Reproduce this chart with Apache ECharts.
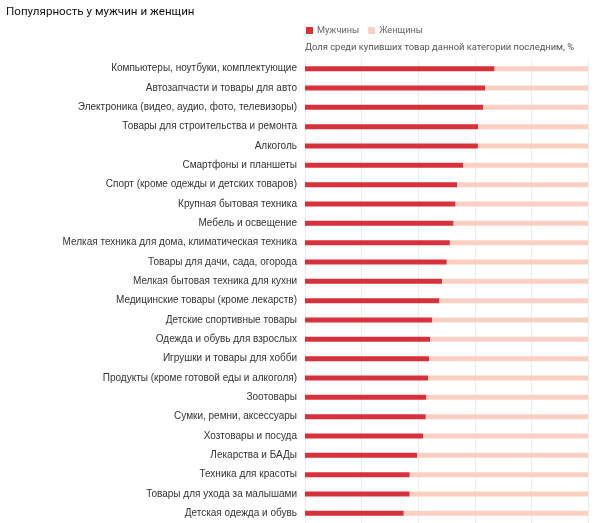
<!DOCTYPE html>
<html>
<head>
<meta charset="utf-8">
<script src="https://cdn.jsdelivr.net/npm/echarts@6/dist/echarts.min.js"></script>
<style>
  html, body { margin: 0; padding: 0; background: #fff; }
  #main { width: 600px; height: 523px; }
</style>
</head>
<body>
<div id="main"></div>
<script>
// категории сверху вниз
var categories = [
    'Компьютеры, ноутбуки, комплектующие',
    'Автозапчасти и товары для авто',
    'Электроника (видео, аудио, фото, телевизоры)',
    'Товары для строительства и ремонта',
    'Алкоголь',
    'Смартфоны и планшеты',
    'Спорт (кроме одежды и детских товаров)',
    'Крупная бытовая техника',
    'Мебель и освещение',
    'Мелкая техника для дома, климатическая техника',
    'Товары для дачи, сада, огорода',
    'Мелкая бытовая техника для кухни',
    'Медицинские товары (кроме лекарств)',
    'Детские спортивные товары',
    'Одежда и обувь для взрослых',
    'Игрушки и товары для хобби',
    'Продукты (кроме готовой еды и алкоголя)',
    'Зоотовары',
    'Сумки, ремни, аксессуары',
    'Хозтовары и посуда',
    'Лекарства и БАДы',
    'Техника для красоты',
    'Товары для ухода за малышами',
    'Детская одежда и обувь'
];

// доля мужчин, %
var menShare = [67.0, 63.7, 63.0, 61.2, 61.1, 55.9, 53.8, 53.2, 52.5, 51.2, 50.1, 48.5,
    47.5, 44.9, 44.2, 43.9, 43.5, 42.9, 42.7, 41.8, 39.6, 37.0, 37.0, 34.9];

// доля женщин, %
var womenShare = [33.0, 36.3, 37.0, 38.8, 38.9, 44.1, 46.2, 46.8, 47.5, 48.8, 49.9, 51.5,
    52.5, 55.1, 55.8, 56.1, 56.5, 57.1, 57.3, 58.2, 60.4, 63.0, 63.0, 65.1];

var myChart = echarts.init(document.getElementById('main'));

var option = {
    animation: false,
    title: [{
        text: 'Популярность у мужчин и женщин',
        left: 1,
        top: 1,
        textStyle: {
            fontFamily: 'Roboto',
            fontSize: 11.6,
            fontWeight: 'normal',
            color: '#111'
        }
    }, {
        text: 'Доля среди купивших товар данной категории последним, %',
        left: 300,
        top: 38,
        textStyle: {
            fontFamily: 'Roboto',
            fontSize: 9.4,
            fontWeight: 'normal',
            color: '#555'
        }
    }],
    legend: {
        left: 301,
        top: 21,
        itemWidth: 7,
        itemHeight: 7,
        itemGap: 9,
        icon: 'rect',
        textStyle: {
            fontFamily: 'Roboto',
            fontSize: 9.2,
            color: '#666',
            padding: [0, 0, 0, -1]
        },
        data: ['Мужчины', 'Женщины']
    },
    grid: {
        left: 305,
        right: 12,
        top: 59,
        bottom: 0,
        containLabel: false
    },
    xAxis: {
        type: 'value',
        min: 0,
        max: 100,
        interval: 20,
        axisLine: { show: false },
        axisTick: { show: false },
        axisLabel: { show: false },
        splitLine: {
            show: true,
            lineStyle: { color: '#ececec', width: 1 }
        }
    },
    yAxis: {
        type: 'category',
        inverse: true,
        data: categories,
        axisLine: { show: false },
        axisTick: { show: false },
        axisLabel: {
            margin: 8,
            fontFamily: 'Arial',
            fontSize: 10,
            color: '#333'
        }
    },
    series: [{
        name: 'Мужчины',
        type: 'bar',
        stack: 'total',
        barWidth: 5,
        itemStyle: { color: '#d7323a' },
        data: menShare
    }, {
        name: 'Женщины',
        type: 'bar',
        stack: 'total',
        barWidth: 5,
        itemStyle: { color: '#fbd0c2' },
        data: womenShare
    }]
};

myChart.setOption(option);
</script>
</body>
</html>
